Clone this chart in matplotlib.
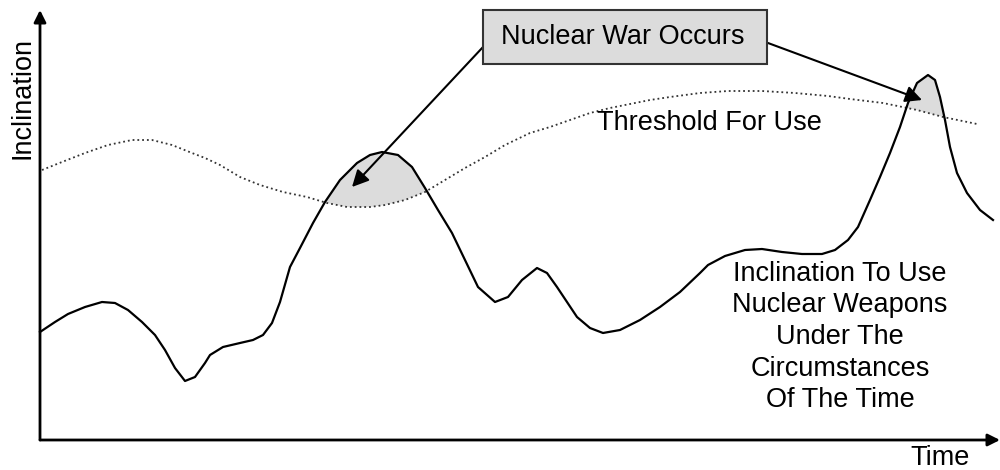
import numpy as np
import matplotlib.pyplot as plt
from matplotlib.patches import Rectangle

plt.rcParams['font.family'] = ['Liberation Sans', 'DejaVu Sans']

# inclination to use nuclear weapons (time, inclination)
incl_t = [0, 15, 28, 45, 62, 75, 88, 102, 115, 125, 135, 145, 155, 165, 170, 183, 200,
          213, 223, 232, 240, 250, 260, 273, 285, 300, 317, 330, 342, 358, 372, 385, 398,
          412, 425, 438, 455, 468, 482, 497, 507, 517, 527, 537, 550, 563, 580, 600, 620,
          640, 660, 668, 685, 705, 722, 742, 762, 782, 795, 808, 818, 830, 840, 850, 860,
          868, 877, 888, 895, 900, 905, 910, 917, 927, 940, 953]
incl_v = [108, 118, 126, 133, 138, 137, 130, 118, 105, 90, 72, 59, 63, 77, 85, 93, 97,
          100, 105, 117, 138, 173, 192, 217, 238, 260, 277, 285, 288, 285, 273, 252, 230,
          207, 180, 153, 138, 143, 160, 172, 167, 153, 138, 123, 112, 107, 110, 120, 133,
          148, 167, 175, 184, 190, 191, 188, 186, 186, 190, 200, 213, 240, 263, 287, 313,
          337, 357, 365, 360, 343, 320, 293, 267, 247, 230, 220]

# threshold for use
thr_t = [2, 22, 45, 68, 92, 112, 132, 152, 165, 180, 200, 220, 243, 267, 287, 307, 330,
         345, 365, 385, 405, 425, 445, 465, 490, 510, 530, 550, 570, 590, 610, 630, 660,
         688, 722, 755, 788, 810, 843, 877, 903, 937]
thr_v = [270, 278, 287, 295, 300, 300, 295, 287, 282, 275, 263, 255, 248, 243, 237, 233,
         233, 235, 240, 248, 260, 272, 283, 295, 307, 313, 320, 327, 332, 336, 340, 343,
         347, 349, 349, 347, 344, 341, 337, 330, 323, 316]

fig = plt.figure(figsize=(10, 4.7), dpi=100)
ax = fig.add_axes([0, 0, 1, 1])
ax.set_xlim(-40, 960)
ax.set_ylim(-30, 440)
ax.axis('off')

# shaded areas where inclination exceeds the threshold
grid = np.linspace(thr_t[0], thr_t[-1], 2000)
a = np.interp(grid, incl_t, incl_v)
b = np.interp(grid, thr_t, thr_v)
ax.fill_between(grid, b, a, where=a > b, color='#dcdcdc', lw=0, zorder=1)

ax.plot(thr_t, thr_v, ls=':', color='#333333', lw=1.3, zorder=2)
ax.plot(incl_t, incl_v, color='black', lw=1.6, zorder=3, solid_joinstyle='round')

# axes with arrow heads
ap = dict(arrowstyle='-|>', color='black', lw=2, mutation_scale=18, shrinkA=0, shrinkB=0)
ax.annotate('', xy=(0, 430), xytext=(0, 0), arrowprops=ap)
ax.annotate('', xy=(960, 0), xytext=(0, 0), arrowprops=ap)

fs = 19.5
ax.text(-17, 342, 'Inclination', rotation=90, ha='center', va='center', fontsize=fs)
ax.text(900, -18, 'Time', ha='center', va='center', fontsize=fs)

# callout box
ax.add_patch(Rectangle((443, 376), 284, 54, facecolor='#dcdcdc', edgecolor='#333333',
                       lw=1.5, zorder=4))
ax.text(583, 403, 'Nuclear War Occurs', ha='center', va='center', fontsize=fs, zorder=5)

arr = dict(arrowstyle='-|>', color='black', lw=1.5, mutation_scale=25, shrinkA=0, shrinkB=0)
ax.annotate('', xy=(312, 253), xytext=(443, 393), arrowprops=arr)
ax.annotate('', xy=(882, 340), xytext=(728, 397), arrowprops=arr)

ax.text(669, 317, 'Threshold For Use', ha='center', va='center', fontsize=fs)
ax.text(800, 103, 'Inclination To Use\nNuclear Weapons\nUnder The\nCircumstances\nOf The Time',
        ha='center', va='center', fontsize=fs, linespacing=1.28)

fig.savefig('out.png', dpi=100)
